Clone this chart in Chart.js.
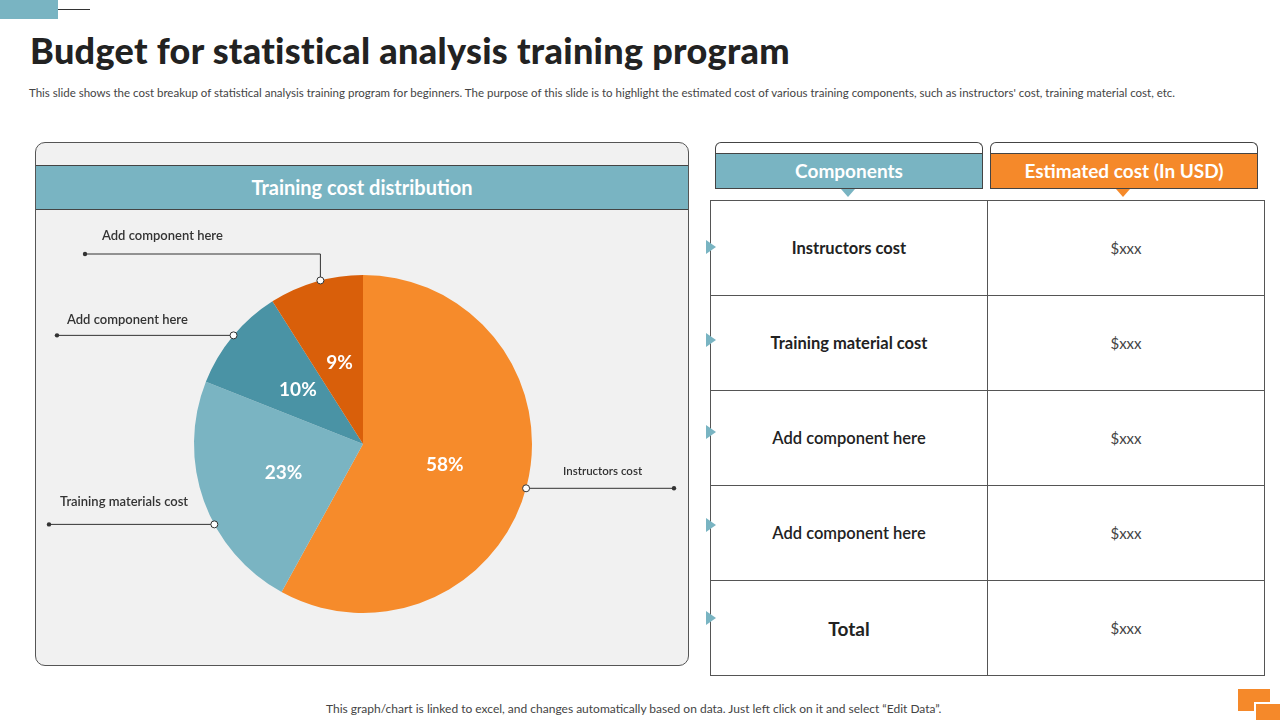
<!DOCTYPE html>
<html><head><meta charset="utf-8">
<script src="https://cdn.jsdelivr.net/npm/chart.js@4/dist/chart.umd.min.js"></script>
<style>
body{margin:0;width:1280px;height:720px;background:#fff;font-family:Lato,"Open Sans",sans-serif;position:relative;overflow:hidden}
.a{position:absolute}
h1{position:absolute;left:30px;top:28px;margin:0;font-size:36px;font-weight:900;color:#222;letter-spacing:0.3px}
.sub{left:29px;top:86px;font-size:11.5px;color:#444}
.panel{left:35px;top:142px;width:652px;height:522px;background:#f1f1f1;border:1px solid #555;border-radius:10px}
.ph{left:36px;top:165px;width:652px;height:43px;background:#79b4c2;border-top:1px solid #444;border-bottom:1px solid #444;color:#fff;font-weight:700;font-size:20px;text-align:center;line-height:43px}
.hd{height:34px;top:153px;color:#fff;font-weight:700;font-size:19px;text-align:center;line-height:34px}
.tab{border-collapse:collapse;position:absolute;left:710px;top:200px}
.tab td{border:1px solid #555;width:274px;height:92px;text-align:center;font-size:16.5px;color:#222}
.tab td.v{color:#444;font-size:15px}
.arr{position:absolute;left:706px;width:0;height:0;border-top:7px solid transparent;border-bottom:7px solid transparent;border-left:10px solid #79b4c2}
</style></head><body>
<div class="a" style="left:0;top:0;width:58px;height:19px;background:#79b4c2"></div>
<div class="a" style="left:58px;top:9px;width:32px;height:1px;background:#333"></div>
<h1>Budget for statistical analysis training program</h1>
<div class="a sub">This slide shows the cost breakup of statistical analysis training program for beginners. The purpose of this slide is to highlight the estimated cost of various training components, such as instructors' cost, training material cost, etc.</div>
<div class="a panel"></div>
<div class="a ph">Training cost distribution</div>
<div class="a" style="left:36px;top:208px;width:652px;height:456px"><canvas id="c"></canvas></div>
<div class="a" style="left:715px;top:142px;width:266px;height:46px;border:1px solid #444;border-radius:6px 6px 0 0;border-bottom:none"></div>
<div class="a" style="left:990px;top:142px;width:266px;height:46px;border:1px solid #444;border-radius:6px 6px 0 0;border-bottom:none"></div>
<div class="a hd" style="left:715px;width:266px;background:#79b4c2;border:1px solid #444">Components</div>
<div class="a hd" style="left:990px;width:266px;background:#f5892a;border:1px solid #444">Estimated cost (In USD)</div>
<div class="a" style="left:841px;top:189px;border-left:7px solid transparent;border-right:7px solid transparent;border-top:8px solid #79b4c2"></div>
<div class="a" style="left:1116px;top:189px;border-left:7px solid transparent;border-right:7px solid transparent;border-top:8px solid #f5892a"></div>
<table class="tab" id="t"></table>
<div class="a" style="left:326px;top:701px;font-size:12px;color:#444">This graph/chart is linked to excel,  and changes automatically based on data. Just left click on it and select “Edit Data”.</div>
<div class="a" style="left:1238px;top:689px;width:32px;height:22px;background:#f5892a"></div>
<div class="a" style="left:1254px;top:702px;width:26px;height:18px;background:#f5892a;border-left:2px solid #fff;border-top:2px solid #fff"></div>
<script>
const categories=["Instructors cost","Training materials cost","Add component here","Add component here"];
const values=[58,23,10,9];
const colors=["#f68b2b","#7ab4c2","#4a93a5","#d95f0a"];
const tableRows=["Instructors  cost","Training material cost","Add component here","Add component here","Total"];
const tableCosts=["$xxx","$xxx","$xxx","$xxx","$xxx"];

const t=document.getElementById('t');
tableRows.forEach((r,i)=>{const tr=document.createElement('tr');
tr.innerHTML='<td style="font-weight:'+(i==4?'700;font-size:19px':(i<2?'700':'600'))+'">'+r+'</td><td class="v">'+tableCosts[i]+'</td>';t.appendChild(tr);
const a=document.createElement('div');a.className='arr';a.style.top=(240+i*92.7)+'px';document.body.appendChild(a);});

// callout: [slice index, angle(deg, canvas), line end x (canvas), via y or null, text x, text y, align]
const callouts=[[0,15.2,638,null,527,263,'left'],[1,151.6,13,null,24,294,'left'],[2,220,21,null,31,112,'left'],[3,255.4,49,46,66,28,'left']];
const plug={id:'lbl',afterDatasetsDraw(ch){
 const ctx=ch.ctx;const m=ch.getDatasetMeta(0);
 m.data.forEach((arc,i)=>{const mid=(arc.startAngle+arc.endAngle)/2;const r=arc.outerRadius*0.5;
  ctx.fillStyle='#fff';ctx.font='bold 19px Lato';ctx.textAlign='center';ctx.textBaseline='middle';
  ctx.fillText(values[i]+'%',arc.x+Math.cos(mid)*r,arc.y+Math.sin(mid)*r);});
 const a0=m.data[0];
 callouts.forEach(c=>{const ang=c[1]*Math.PI/180;const px=a0.x+Math.cos(ang)*a0.outerRadius,py=a0.y+Math.sin(ang)*a0.outerRadius;
  ctx.strokeStyle='#333';ctx.lineWidth=1;ctx.beginPath();ctx.moveTo(px,py);
  let ly=py;if(c[3]!==null){ly=c[3];ctx.lineTo(px,ly);}ctx.lineTo(c[2],ly);ctx.stroke();
  ctx.fillStyle='#333';ctx.beginPath();ctx.arc(c[2],ly,2.2,0,7);ctx.fill();
  ctx.fillStyle='#fff';ctx.beginPath();ctx.arc(px,py,3.5,0,7);ctx.fill();ctx.stroke();
  ctx.fillStyle='#333';ctx.font=(c[0]==0?'600 11.5px':'600 13px')+' Lato';ctx.textAlign='left';ctx.textBaseline='middle';
  ctx.fillText(categories[c[0]],c[4],c[5]);});
}};
new Chart(document.getElementById('c'),{type:'pie',data:{labels:categories,datasets:[{data:values,backgroundColor:colors,borderWidth:0}]},
options:{responsive:true,maintainAspectRatio:false,animation:false,layout:{padding:{left:158,right:156,top:67,bottom:51}},
plugins:{legend:{display:false},tooltip:{enabled:false}}},plugins:[plug]});
</script></body></html>
